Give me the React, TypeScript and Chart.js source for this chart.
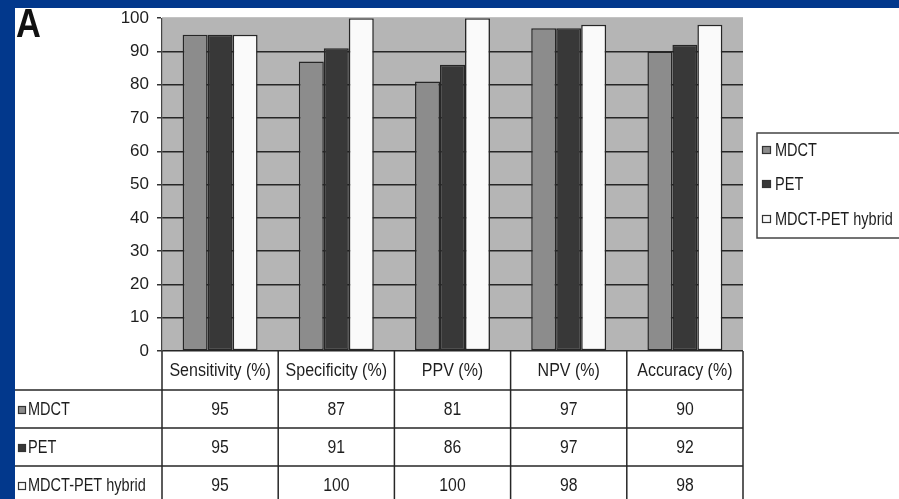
import React, { useEffect, useRef } from "react";
import { Chart, registerables } from "chart.js";

Chart.register(...registerables);

// Diagnostic performance of each imaging method
const categories = ["Sensitivity (%)", "Specificity (%)", "PPV (%)", "NPV (%)", "Accuracy (%)"];
const seriesNames = ["MDCT", "PET", "MDCT-PET hybrid"];
const mdctValues = [95, 87, 81, 97, 90];
const petValues = [95, 91, 86, 97, 92];
const hybridValues = [95, 100, 100, 98, 98];
const seriesColors = ["#8c8c8c", "#383838", "#fafafa"];

const FONT = '"Liberation Sans", Arial, sans-serif';
const FRAME_BLUE = "#02388c";
const LINE = "#262626";
const TEXT = "#1e1e1e";

// Narrow text, drawn by squeezing a larger font horizontally
function fillNarrow(
  ctx: CanvasRenderingContext2D,
  text: string,
  x: number,
  y: number,
  size: number,
  sx: number,
  align: CanvasTextAlign,
  weight = ""
) {
  ctx.save();
  ctx.font = `${weight} ${size}px ${FONT}`.trim();
  ctx.textAlign = align;
  ctx.textBaseline = "middle";
  ctx.translate(x, y);
  ctx.scale(sx, 1);
  ctx.fillText(text, 0, 0);
  ctx.restore();
}

const framePlugin = {
  id: "frame",
  beforeDraw(chart: any) {
    const { ctx, width, height, chartArea } = chart;
    ctx.save();
    ctx.fillStyle = FRAME_BLUE;
    ctx.fillRect(0, 0, width, height);
    ctx.fillStyle = "#ffffff";
    ctx.fillRect(15, 8, width - 15, height - 8);
    // plot background
    ctx.fillStyle = "#b5b5b5";
    ctx.fillRect(chartArea.left, chartArea.top - 1, chartArea.right - chartArea.left, chartArea.bottom - chartArea.top + 1);
    // panel letter
    ctx.fillStyle = "#111";
    ctx.font = `bold 40px ${FONT}`;
    ctx.textBaseline = "alphabetic";
    ctx.translate(16, 37);
    ctx.scale(0.86, 1);
    ctx.fillText("A", 0, 0);
    ctx.restore();
  },
};

function drawMarker(ctx: CanvasRenderingContext2D, x: number, y: number, w: number, h: number, fill: string) {
  ctx.fillStyle = fill;
  ctx.fillRect(x, y - h / 2, w, h);
  ctx.strokeStyle = "#333";
  ctx.lineWidth = 1.2;
  ctx.strokeRect(x + 0.5, y - h / 2 + 0.5, w - 1, h - 1);
}

const tablePlugin = {
  id: "dataTable",
  afterDraw(chart: any) {
    const { ctx, chartArea, height, width } = chart;
    const xScale = chart.scales.x;
    const n = categories.length;
    const catW = (chartArea.right - chartArea.left) / n;
    const top = chartArea.bottom;
    const headerBottom = top + 39;
    const rowH = 38;
    const rowLines = [headerBottom, headerBottom + rowH, headerBottom + rowH * 2];
    const tableLeft = 15;

    ctx.save();
    ctx.strokeStyle = LINE;
    ctx.lineWidth = 1.5;
    // vertical column borders
    for (let i = 0; i <= n; i++) {
      const x = i < n ? xScale.getPixelForValue(i) - catW / 2 : xScale.getPixelForValue(n - 1) + catW / 2;
      ctx.beginPath();
      ctx.moveTo(x, top);
      ctx.lineTo(x, height);
      ctx.stroke();
    }
    // horizontal row borders
    rowLines.forEach((y) => {
      ctx.beginPath();
      ctx.moveTo(tableLeft, y);
      ctx.lineTo(chartArea.right, y);
      ctx.stroke();
    });

    ctx.fillStyle = TEXT;
    categories.forEach((c, i) => {
      fillNarrow(ctx, c, xScale.getPixelForValue(i), (top + headerBottom) / 2 + 1, 17.5, 0.915, "center");
    });

    const rows = [mdctValues, petValues, hybridValues];
    rows.forEach((vals, r) => {
      const y0 = rowLines[r];
      const cy = y0 + rowH / 2 + 1;
      ctx.fillStyle = TEXT;
      vals.forEach((v, i) => {
        fillNarrow(ctx, String(v), xScale.getPixelForValue(i), cy, 17.5, 0.9, "center");
      });
      drawMarker(ctx, 18, cy, 8, 8, seriesColors[r]);
      ctx.fillStyle = TEXT;
      fillNarrow(ctx, seriesNames[r], 28, cy, 17.5, 0.83, "left");
    });

    // legend box
    ctx.strokeStyle = "#444";
    ctx.lineWidth = 1.5;
    ctx.strokeRect(757, 133, width - 757 + 10, 105);
    const legendY = [150, 184, 219];
    seriesNames.forEach((name, r) => {
      drawMarker(ctx, 762, legendY[r], 9, 8, seriesColors[r]);
      ctx.fillStyle = TEXT;
      fillNarrow(ctx, name, 775, legendY[r] + 1, 17.5, 0.83, "left");
    });
    ctx.restore();
  },
};

export default function App() {
  const canvasRef = useRef<HTMLCanvasElement | null>(null);

  useEffect(() => {
    if (!canvasRef.current) return;
    const datasets = [mdctValues, petValues, hybridValues].map((values, i) => ({
      label: seriesNames[i],
      data: values,
      backgroundColor: seriesColors[i],
      borderColor: LINE,
      borderWidth: 1.5,
      borderSkipped: false as const,
      categoryPercentage: 0.645,
      barPercentage: 1,
    }));
    const chart = new Chart(canvasRef.current, {
      type: "bar",
      data: { labels: categories, datasets },
      options: {
        responsive: false,
        animation: false,
        devicePixelRatio: 1,
        layout: { padding: { left: 15, top: 16, right: 156, bottom: 148 } },
        plugins: { legend: { display: false }, tooltip: { enabled: false } },
        scales: {
          x: { display: false },
          y: {
            min: 0,
            max: 100,
            afterFit: (scale: any) => {
              scale.width = 147;
            },
            ticks: {
              stepSize: 10,
              padding: 8,
              color: TEXT,
              font: { family: FONT, size: 17 },
            },
            grid: {
              color: (ctx: any) => (ctx.tick && ctx.tick.value === 100 ? "rgba(0,0,0,0)" : LINE),
              tickColor: "#333",
              lineWidth: 1.5,
              tickLength: 5,
            },
            border: { color: "#444", width: 1.2 },
          },
        },
      },
      plugins: [framePlugin, tablePlugin],
    });
    return () => chart.destroy();
  }, []);

  return (
    <div style={{ position: "fixed", left: 0, top: 0, width: 899, height: 499 }}>
      <canvas ref={canvasRef} width={899} height={499} style={{ display: "block" }} />
    </div>
  );
}
